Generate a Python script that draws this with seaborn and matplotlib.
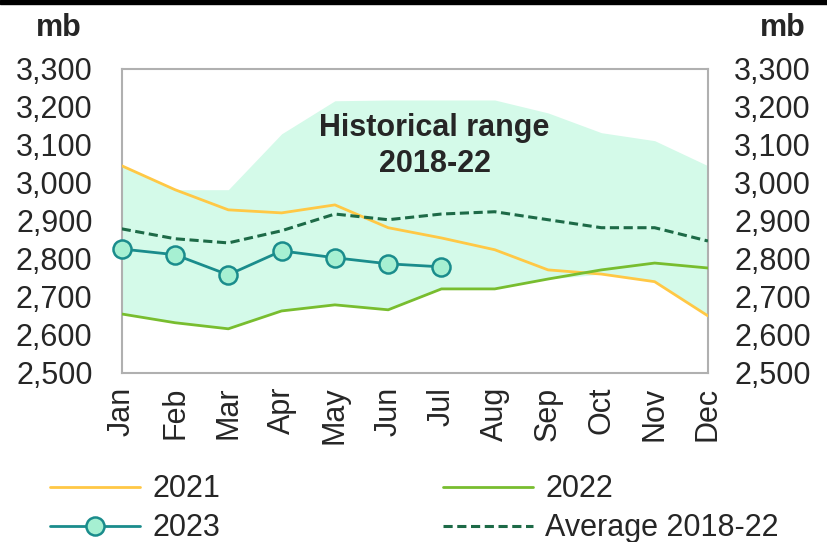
import numpy as np
import pandas as pd
import matplotlib.pyplot as plt
import seaborn as sns
from matplotlib.patches import Rectangle
from matplotlib.lines import Line2D

sns.set_style("white")
plt.rcParams["font.family"] = ["Liberation Sans", "DejaVu Sans"]

# Data (mb)
months = ["Jan", "Feb", "Mar", "Apr", "May", "Jun",
          "Jul", "Aug", "Sep", "Oct", "Nov", "Dec"]
y2021 = [3045, 2982, 2929, 2921, 2942, 2882, 2855, 2824, 2771, 2760, 2740, 2650]
y2022 = [2655, 2632, 2616, 2663, 2679, 2666, 2721, 2721, 2747, 2771, 2789, 2776]
y2023 = [2826, 2811, 2758, 2821, 2803, 2787, 2779]
avg = [2879, 2853, 2842, 2874, 2918, 2903, 2918, 2924, 2903, 2882, 2882, 2847]
range_max = [3045, 2982, 2982, 3129, 3216, 3218, 3218, 3218, 3184, 3132, 3111, 3045]
range_min = [2655, 2632, 2616, 2663, 2679, 2666, 2721, 2721, 2747, 2760, 2740, 2650]

c2021 = "#ffc845"
c2022 = "#78bd2f"
c2023 = "#1a8c8c"
cavg = "#1d6a47"
cband = "#d4fae9"

x = np.arange(len(months))
df = pd.DataFrame({"x": x, "y2021": y2021, "y2022": y2022, "avg": avg})
df23 = pd.DataFrame({"x": x[:len(y2023)], "y2023": y2023})

fig = plt.figure(figsize=(8.28, 5.42), dpi=100)
ax = fig.add_axes([0.147, 0.312, 0.708, 0.561])

ax.fill_between(x, range_min, range_max, color=cband, lw=0, zorder=1)
sns.lineplot(data=df, x="x", y="y2021", ax=ax, color=c2021, lw=2, zorder=3)
sns.lineplot(data=df, x="x", y="y2022", ax=ax, color=c2022, lw=2, zorder=3)
sns.lineplot(data=df, x="x", y="avg", ax=ax, color=cavg, lw=2.2,
             linestyle=(0, (3, 1.5)), zorder=3)
sns.lineplot(data=df23, x="x", y="y2023", ax=ax, color=c2023, lw=2,
             marker="o", markersize=13, markerfacecolor="#a6f0d2",
             markeredgecolor=c2023, markeredgewidth=1.8, zorder=4, clip_on=False)

ticks = list(range(2500, 3301, 100))
ax.set_xlim(0, 11)
ax.set_ylim(2500, 3300)
ax.set_yticks(ticks)
ax.set_yticklabels([f"{v:,}" for v in ticks], fontsize=22)
ax.set_xticks(x)
ax.set_xticklabels(months, rotation=90, fontsize=22)
ax.tick_params(axis="y", length=0, pad=21)
ax.tick_params(axis="x", length=0, pad=10)
ax.set_xlabel("")
ax.set_ylabel("")
for s in ax.spines.values():
    s.set_color("#b0b0b0")
    s.set_linewidth(1.5)

ax2 = ax.twinx()
ax2.set_ylim(2500, 3300)
ax2.set_yticks(ticks)
ax2.set_yticklabels([f"{v:,}" for v in ticks], fontsize=22)
ax2.tick_params(axis="y", length=0, pad=19)
for s in ax2.spines.values():
    s.set_visible(False)

ax.text(5.87, 3097, "Historical range\n2018-22", ha="center", va="center",
        fontsize=22, fontweight="bold", linespacing=1.3, zorder=5)

fig.text(0.071, 0.948, "mb", ha="center", va="center", fontsize=22, fontweight="bold")
fig.text(0.945, 0.948, "mb", ha="center", va="center", fontsize=22, fontweight="bold")

handles = [
    Line2D([], [], color=c2021, lw=2),
    Line2D([], [], color=c2023, lw=2, marker="o", markersize=13,
           markerfacecolor="#a6f0d2", markeredgecolor=c2023, markeredgewidth=1.8),
    Line2D([], [], color=c2022, lw=2),
    Line2D([], [], color=cavg, lw=2.2, linestyle=(0, (3, 1.5))),
]
labels = ["2021", "2023", "2022", "Average 2018-22"]
fig.legend(handles, labels, ncol=2, loc="upper left",
           bbox_to_anchor=(0.06, 0.125), fontsize=22, frameon=False,
           handlelength=2.95, handletextpad=0.4, columnspacing=7.3,
           labelspacing=0.3, borderpad=0, borderaxespad=0)

# black bar at top edge
fig.patches.append(Rectangle((0, 0.993), 1, 0.007, transform=fig.transFigure,
                             color="black", zorder=10))

fig.savefig("out.png", dpi=100)
